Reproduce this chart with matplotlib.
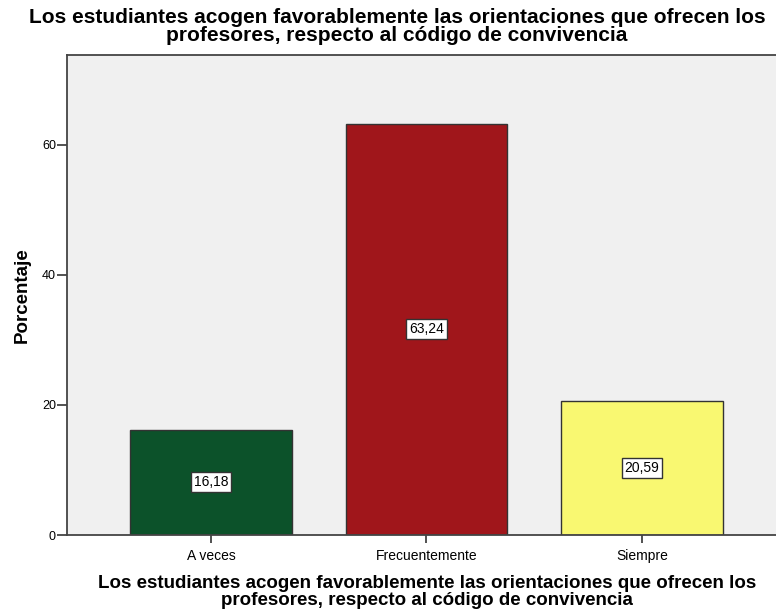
import matplotlib
matplotlib.use('Agg')
import matplotlib.pyplot as plt
import numpy as np

categorias = ['A veces', 'Frecuentemente', 'Siempre']
porcentajes = [16.18, 63.24, 20.59]
etiquetas = ['16,18', '63,24', '20,59']
colores = ['#0c522a', '#a0161b', '#f9f871']

titulo = ('Los estudiantes acogen favorablemente las orientaciones que ofrecen los\n'
          'profesores, respecto al código de convivencia')

fuente = 'Liberation Sans'

fig = plt.figure(figsize=(7.76, 6.13), dpi=100)
ax = fig.add_axes([67/776, 78/613, 1 - 67/776, 480/613])
ax.set_facecolor('#f0f0f0')

x = np.arange(len(categorias))
ax.bar(x, porcentajes, width=0.75, color=colores, edgecolor='#333333', linewidth=1.0, zorder=2)

# etiquetas de valor en el medio de cada barra
for xi, v, t in zip(x, porcentajes, etiquetas):
    ax.text(xi, v / 2, t, ha='center', va='center', fontsize=10, family=fuente,
            bbox=dict(boxstyle='square,pad=0.22', facecolor='white', edgecolor='#333333', linewidth=1.0),
            zorder=3)

ax.set_xlim(-0.668, 2.622)
ax.set_ylim(0, 73.8)
ax.set_yticks([0, 20, 40, 60])
ax.set_xticks(x)
ax.set_xticklabels(categorias, fontsize=10, family=fuente)
ax.tick_params(axis='y', labelsize=9, length=7, width=1.2, color='#333333', pad=1)
ax.tick_params(axis='x', length=6, width=1.2, color='#333333', pad=4)
for lbl in ax.get_yticklabels():
    lbl.set_family(fuente)

for s in ['left', 'bottom', 'top']:
    ax.spines[s].set_color('#444444')
    ax.spines[s].set_linewidth(1.3)
ax.spines['right'].set_visible(False)

ax.set_ylabel('Porcentaje', fontsize=13.5, fontweight='bold', family=fuente)
ax.yaxis.set_label_coords((31 - 67) / 709, 0.5)
ax.set_xlabel(titulo, fontsize=13.5, fontweight='bold', family=fuente, linespacing=1.03)
ax.xaxis.set_label_coords((427 - 67) / 709, (535 - 575) / 480)

fig.text(397/776, 1 - 8/613, titulo, ha='center', va='top', fontsize=15, fontweight='bold',
         family=fuente, linespacing=0.95)

fig.savefig('out.png', dpi=100)
